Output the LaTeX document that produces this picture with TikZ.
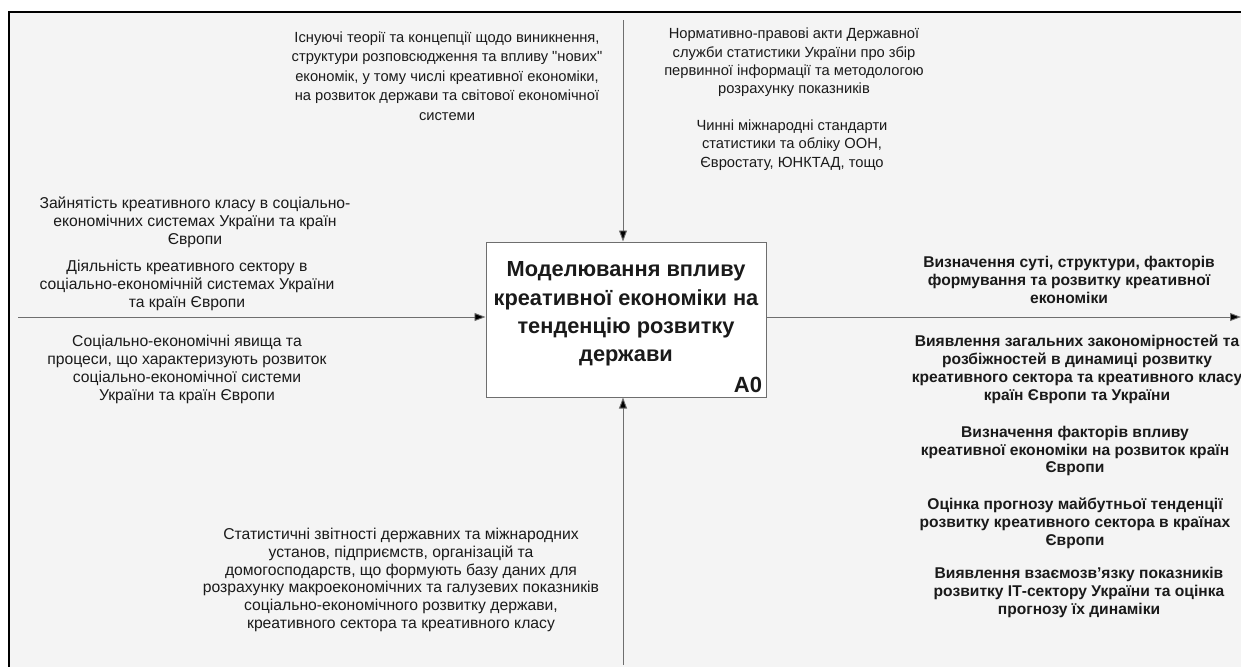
\documentclass[tikz,border=0pt]{standalone}
\usepackage{fontspec}
\setmainfont{Liberation Sans}[Ligatures=TeXOff]
\usetikzlibrary{arrows.meta}
\definecolor{bgc}{HTML}{F4F4F4}
\definecolor{linec}{HTML}{6E6E6E}
\definecolor{txtc}{HTML}{1A1A1A}
\tikzset{
  lbl/.style={align=center, inner sep=0pt, text=txtc, font=\fontsize{15.7}{17.8}\selectfont},
  toplbl/.style={lbl, font=\fontsize{14.7}{18.4}\selectfont},
  blbl/.style={lbl, font=\fontsize{15.6}{17.9}\selectfont\bfseries},
  arr/.style={draw=linec, line width=0.9pt, -{Triangle[length=11pt,width=8pt,fill=black]}},
  fnbox/.style={draw=linec, line width=1pt, fill=white, minimum width=280pt, minimum height=155pt, inner sep=0pt}
}
\begin{document}
\begin{tikzpicture}[x=1pt,y=-1pt]
\useasboundingbox (0,0) rectangle (1241,667);
\fill[white] (0,0) rectangle (1241,667);
\fill[bgc] (9,12) rectangle (1241,667);
\draw[black, line width=2.2pt] (9,12) -- (1241,12);
\draw[black, line width=2.2pt] (9,11) -- (9,667);

\node[fnbox] (A0) at (626,319.5) {};
\node[align=center, inner sep=0pt, text=txtc, font=\fontsize{21.8}{28.3}\selectfont\bfseries] (title) at (626,314)
  {Моделювання впливу\\креативної економіки на\\тенденцію розвитку\\держави};
\node[inner sep=0pt, text=txtc, font=\fontsize{22}{24}\selectfont\bfseries] (a0lbl) at (748,385) {A0};

\coordinate (topin) at (623,20);
\coordinate (botin) at (623,665);
\coordinate (leftin) at (18,317);
\coordinate (rightout) at (1241,317);

\draw[arr] (topin) -- (topin |- A0.north);
\draw[arr] (botin) -- (botin |- A0.south);
\draw[arr] (leftin) -- (leftin -| A0.west);
\draw[arr] (A0.east |- rightout) -- (rightout);

% controls
\node[toplbl, font=\fontsize{14.7}{19.5}\selectfont] (c1) at (447,76)
  {Існуючі теорії та концепції щодо виникнення,\\структури розповсюдження та впливу "нових"\\економік, у тому числі креативної економіки,\\на розвиток держави та світової економічної\\системи};
\node[toplbl] (c2) at (794,62.5)
  {Нормативно-правові акти Державної\\служби статистики України про збір\\первинної інформації та методологою\\розрахунку показників};
\node[toplbl] (c3) at (792,145)
  {Чинні міжнародні стандарти\\статистики та обліку ООН,\\Євростату, ЮНКТАД, тощо};

% inputs
\node[lbl] (i1) at (195,222)
  {Зайнятість креативного класу в соціально-\\економічних системах України та країн\\Європи};
\node[lbl] (i2) at (187,285.5)
  {Діяльність креативного сектору в\\соціально-економічній системах України\\та країн Європи};
\node[lbl] (i3) at (187,369.5)
  {Соціально-економічні явища та\\процеси, що характеризують розвиток\\соціально-економічної системи\\України та країн Європи};

% mechanism
\node[lbl] (m1) at (401,580)
  {Статистичні звітності державних та міжнародних\\установ, підприємств, організацій та\\домогосподарств, що формують базу даних для\\розрахунку макроекономічних та галузевих показників\\соціально-економічного розвитку держави,\\креативного сектора та креативного класу};

% outputs
\node[blbl] (o1) at (1069,280)
  {Визначення суті, структури, факторів\\формування та розвитку креативної\\економіки};
\node[blbl] (o2) at (1077,369.5)
  {Виявлення загальних закономірностей та\\розбіжностей в динамиці розвитку\\креативного сектора та креативного класу\\країн Європи та України};
\node[blbl] (o3) at (1075,451)
  {Визначення факторів впливу\\креативної економіки на розвиток країн\\Європи};
\node[blbl] (o4) at (1075,523.5)
  {Оцінка прогнозу майбутньої тенденції\\розвитку креативного сектора в країнах\\Європи};
\node[blbl] (o5) at (1079,592.5)
  {Виявлення взаємозв’язку показників\\розвитку ІТ-сектору України та оцінка\\прогнозу їх динаміки};
\end{tikzpicture}
\end{document}
